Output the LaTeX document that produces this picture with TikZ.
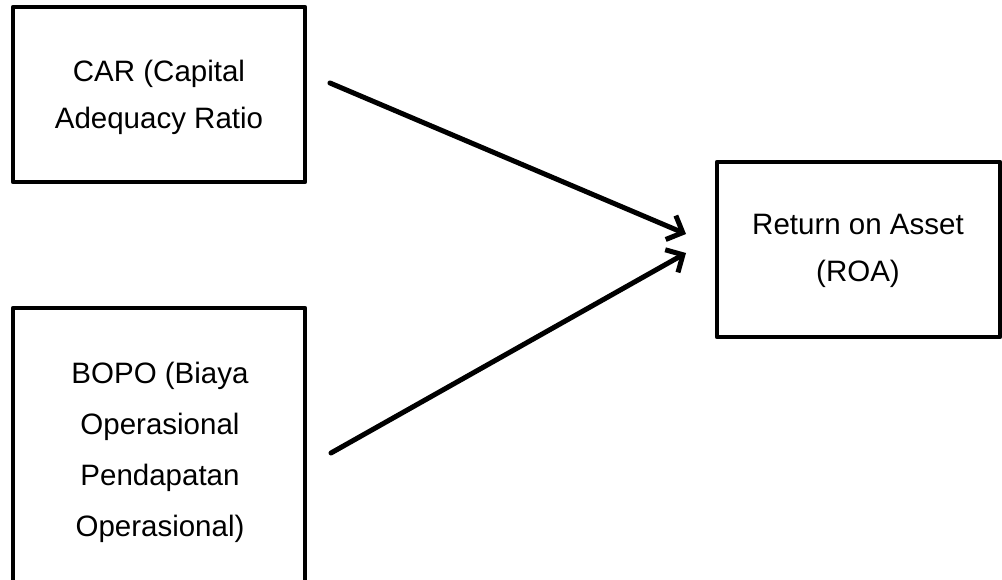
\documentclass[tikz,border=0pt]{standalone}
\usepackage{fontspec}
\setmainfont{Liberation Sans}
\usetikzlibrary{arrows.meta}
\begin{document}
\begin{tikzpicture}[x=1pt,y=-1pt,
  boxline/.style={draw=black,line width=4.5pt,line join=round},
  lbl/.style={align=center,font=\fontsize{29.5}{47}\selectfont,inner sep=0pt},
  conn/.style={line width=5pt,line cap=round,-{Straight Barb[length=13pt,width=26pt,line width=5pt]}}]
\useasboundingbox (0,0) rectangle (1002,580);
\clip (0,0) rectangle (1002,580);
\draw[boxline] (13,7) rectangle (305,182);
\node[lbl] (car) at (159,97) {CAR (Capital\\Adequacy Ratio};
\draw[boxline] (13,308) rectangle (305,600);
\node[lbl,font=\fontsize{29.5}{51}\selectfont] (bopo) at (160,452) {BOPO (Biaya\\Operasional\\Pendapatan\\Operasional)};
\draw[boxline] (717,162) rectangle (1000,337);
\node[lbl] (roa) at (858,251) {Return on Asset\\(ROA)};
\coordinate (s1) at (330,83);
\coordinate (t1) at (686,234);
\coordinate (s2) at (331,453);
\coordinate (t2) at (686,253);
\draw[conn] (s1) -- (t1);
\draw[conn] (s2) -- (t2);
\end{tikzpicture}
\end{document}
